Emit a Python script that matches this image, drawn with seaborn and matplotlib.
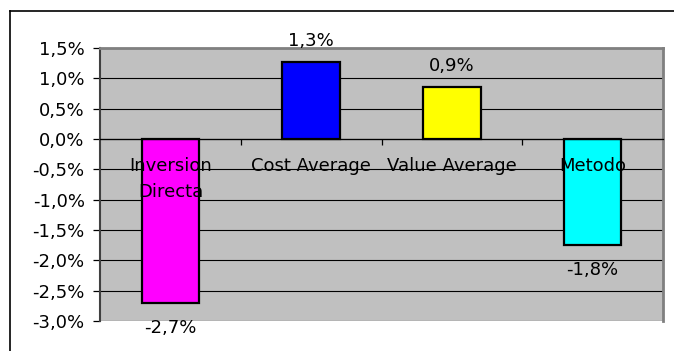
import matplotlib
matplotlib.use('Agg')
import matplotlib.pyplot as plt
import matplotlib.ticker as mticker
import pandas as pd
import seaborn as sns


categories = ['Inversion\nDirecta', 'Cost Average', 'Value Average', 'Metodo']
values = [-2.70, 1.27, 0.86, -1.75]
value_labels = ['-2,7%', '1,3%', '0,9%', '-1,8%']
bar_colors = ['#FF00FF', '#0000FF', '#FFFF00', '#00FFFF']
y_ticks = [-3.0, -2.5, -2.0, -1.5, -1.0, -0.5, 0.0, 0.5, 1.0, 1.5]

df = pd.DataFrame({'metodo': categories, 'rent': values})

plt.rcParams['font.family'] = 'DejaVu Sans'
plt.rcParams['font.size'] = 13

fig = plt.figure(figsize=(6.74, 3.51), dpi=100)
ax = fig.add_axes([100 / 674, 1 - 321 / 351, 563 / 674, 273 / 351])
ax.set_facecolor('#C0C0C0')

sns.barplot(data=df, x='metodo', y='rent', hue='metodo', palette=bar_colors,
            width=0.41, legend=False, edgecolor='black', linewidth=1.6,
            saturation=1, ax=ax, zorder=3)

ax.set_xlim(-0.5, 3.5)
ax.set_ylim(-3.0, 1.5)
ax.set_yticks(y_ticks)
ax.yaxis.set_major_formatter(mticker.FuncFormatter(
    lambda v, p: f'{v:.1f}%'.replace('.', ',')))
ax.grid(axis='y', color='black', linewidth=0.8, zorder=1)
ax.grid(axis='x', visible=False)
ax.set_axisbelow(True)
ax.set_xlabel('')
ax.set_ylabel('')

# x axis on the zero line
ax.spines['bottom'].set_position(('data', 0))
ax.spines['bottom'].set_color('black')
ax.spines['bottom'].set_linewidth(0.9)
ax.spines['bottom'].set_zorder(4)
ax.spines['left'].set_color('#404040')
ax.spines['left'].set_linewidth(1.5)
for s in ['top', 'right']:
    ax.spines[s].set_color('#808080')
    ax.spines[s].set_linewidth(2)

# ticks between categories, labels drawn as text on top of bars
ax.set_xticks([0.5, 1.5, 2.5])
ax.set_xticklabels([])
ax.tick_params(axis='x', length=4, width=0.9, direction='out', color='black')
ax.tick_params(axis='y', length=5, width=0.9, pad=6, color='black')

for i, c in enumerate(categories):
    ax.annotate(c, xy=(i, 0), xytext=(0, -13), textcoords='offset points',
                ha='center', va='top', linespacing=1.6, zorder=6)

for i, (v, t) in enumerate(zip(values, value_labels)):
    off = 15 if v > 0 else -18
    ax.annotate(t, xy=(i, v), xytext=(0, off), textcoords='offset points',
                ha='center', va='center', zorder=6)

# outer chart frame
fig.add_artist(plt.Line2D([10 / 674, 10 / 674], [0, 1 - 11 / 351],
                          transform=fig.transFigure, color='black', linewidth=1.2))
fig.add_artist(plt.Line2D([10 / 674, 1], [1 - 11 / 351, 1 - 11 / 351],
                          transform=fig.transFigure, color='black', linewidth=1.2))

fig.savefig('out.png', dpi=100)
